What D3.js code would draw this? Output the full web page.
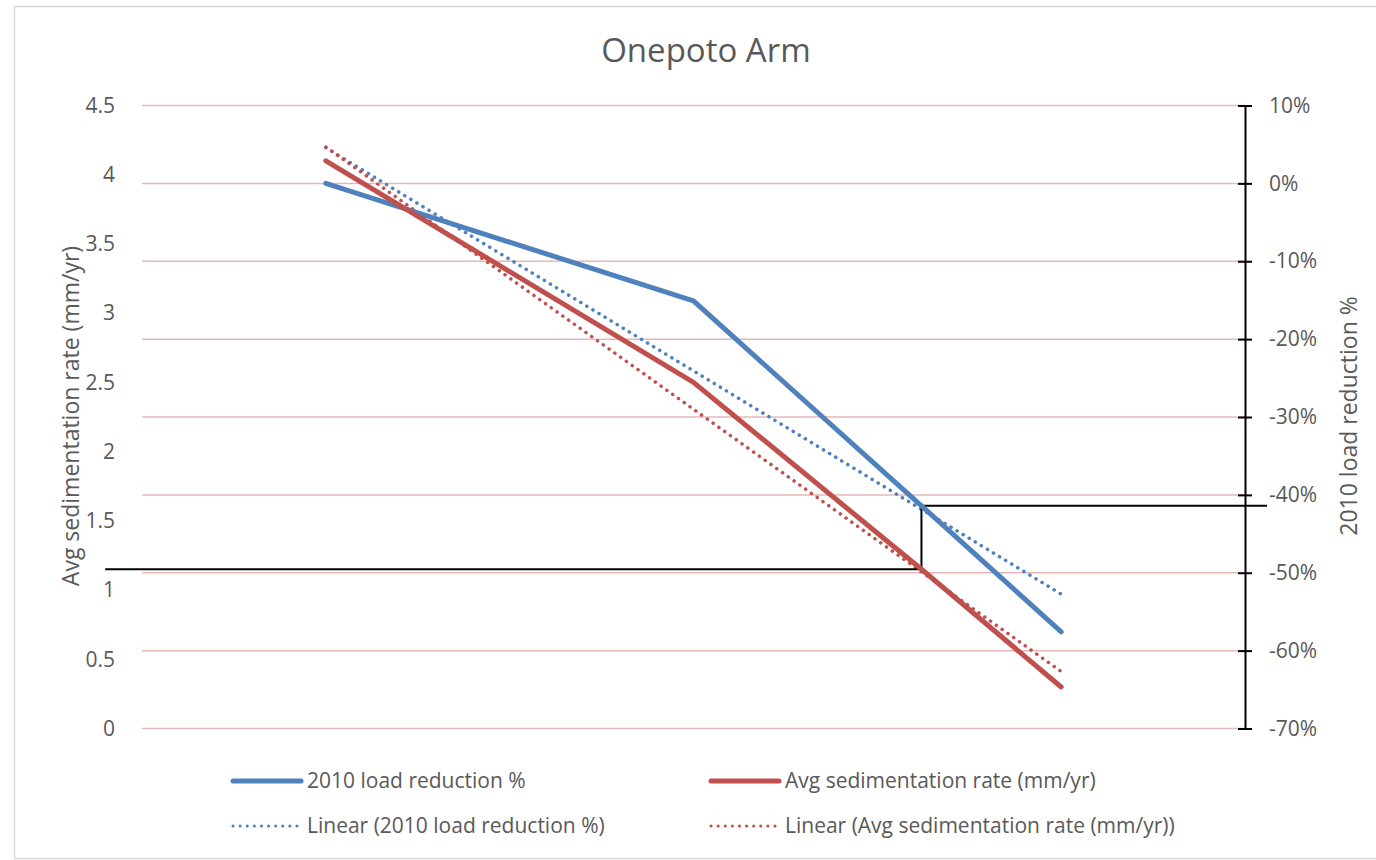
<!DOCTYPE html>
<html>
<head>
<meta charset="utf-8">
<script src="https://cdn.jsdelivr.net/npm/d3@7"></script>
<style>
  body { margin: 0; background: #fff; }
  text { font-family: 'Open Sans', sans-serif; fill: #595959; }
</style>
</head>
<body>
<div id="chart"></div>
<script>
let width = 1376
let height = 860

// data
const xValues = [1, 3, 4.24, 5]
const loadReduction = [0, -0.151, -0.414, -0.576]
const sedRate = [4.10, 2.50, 1.15, 0.30]
const leftTicks = [0, 0.5, 1, 1.5, 2, 2.5, 3, 3.5, 4, 4.5]
const rightTicks = [-0.7, -0.6, -0.5, -0.4, -0.3, -0.2, -0.1, 0, 0.1]
// black guide lines (x extent in chart units)
const guideX = [-0.2, 4.24, 6.12]

const blue = '#4f81bd'
const red = '#c0504d'

let svg = d3.select('#chart')
            .append('svg')
            .attr('width', width)
            .attr('height', height)

svg.append('rect')
    .attr('x', 14.5)
    .attr('y', 6.5)
    .attr('width', 1370)
    .attr('height', 852)
    .attr('fill', 'none')
    .attr('stroke', '#d9d9d9')
    .attr('stroke-width', 1.5)

let xScale = d3.scaleLinear().domain([0, 6]).range([142, 1245])
let yLeft = d3.scaleLinear().domain([0, 4.5]).range([728.5, 105.5])
let yRight = d3.scaleLinear().domain([-0.7, 0.1]).range([728.5, 105.5])

// title
svg.append('text')
    .attr('x', 706)
    .attr('y', 62)
    .attr('text-anchor', 'middle')
    .style('font-size', '33px')
    .text('Onepoto Arm')

// gridlines follow the right axis
svg.selectAll('.grid')
    .data(rightTicks)
    .enter()
    .append('line')
    .attr('class', 'grid')
    .attr('x1', xScale(0))
    .attr('x2', xScale(6))
    .attr('y1', d => yRight(d))
    .attr('y2', d => yRight(d))
    .attr('stroke', '#e6b9b8')
    .attr('stroke-width', 1.5)

// left axis: labels only
let leftAxis = svg.append('g')
    .attr('transform', 'translate(' + (xScale(0) - 24) + ',0)')
    .call(d3.axisLeft(yLeft).tickValues(leftTicks).tickSize(0).tickFormat(d => d))
leftAxis.select('.domain').remove()
leftAxis.selectAll('text')
    .attr('fill', '#595959')
    .style('font-family', "'Open Sans', sans-serif")
    .style('font-size', '21px')

// right axis with line and crossing ticks
let pct = d3.format('.0%')
let rightAxis = svg.append('g')
    .attr('transform', 'translate(' + xScale(6) + ',0)')
    .call(d3.axisRight(yRight).tickValues(rightTicks).tickSize(0).tickPadding(24)
        .tickFormat(d => pct(d).replace('\u2212', '-')))
rightAxis.select('.domain').attr('stroke', '#000').attr('stroke-width', 2)
rightAxis.selectAll('.tick line')
    .attr('x1', -7)
    .attr('x2', 7)
    .attr('stroke', '#000')
    .attr('stroke-width', 2)
rightAxis.selectAll('text')
    .attr('fill', '#595959')
    .style('font-family', "'Open Sans', sans-serif")
    .style('font-size', '21px')

// axis titles
svg.append('text')
    .attr('transform', 'translate(79,416) rotate(-90)')
    .attr('text-anchor', 'middle')
    .style('font-size', '23px')
    .text('Avg sedimentation rate (mm/yr)')

svg.append('text')
    .attr('transform', 'translate(1357,416) rotate(-90)')
    .attr('text-anchor', 'middle')
    .style('font-size', '23px')
    .text('2010 load reduction %')

// linear trend from the points
function linearFit(xs, ys) {
    let mx = d3.mean(xs), my = d3.mean(ys)
    let sxy = d3.sum(xs, (x, i) => (x - mx) * (ys[i] - my))
    let sxx = d3.sum(xs, x => (x - mx) * (x - mx))
    let slope = sxy / sxx
    let ext = d3.extent(xs)
    return ext.map(x => [x, my + slope * (x - mx)])
}

let blueTrend = linearFit(xValues, loadReduction)
let redTrend = linearFit(xValues, sedRate)

let dotted = '0.1 7'

svg.append('path')
    .datum(blueTrend)
    .attr('d', d3.line().x(d => xScale(d[0])).y(d => yRight(d[1])))
    .attr('fill', 'none')
    .attr('stroke', blue)
    .attr('stroke-width', 3.5)
    .attr('stroke-linecap', 'round')
    .attr('stroke-dasharray', dotted)

svg.append('path')
    .datum(redTrend)
    .attr('d', d3.line().x(d => xScale(d[0])).y(d => yLeft(d[1])))
    .attr('fill', 'none')
    .attr('stroke', red)
    .attr('stroke-width', 3.5)
    .attr('stroke-linecap', 'round')
    .attr('stroke-dasharray', dotted)

// black guide lines
let guide = [
    [xScale(guideX[0]), yLeft(sedRate[2])],
    [xScale(guideX[1]), yLeft(sedRate[2])],
    [xScale(guideX[1]), yRight(loadReduction[2])],
    [xScale(guideX[2]), yRight(loadReduction[2])]
]
svg.append('path')
    .attr('d', d3.line()(guide))
    .attr('fill', 'none')
    .attr('stroke', '#000')
    .attr('stroke-width', 2)

// main series
svg.append('path')
    .datum(xValues.map((x, i) => [x, loadReduction[i]]))
    .attr('d', d3.line().x(d => xScale(d[0])).y(d => yRight(d[1])))
    .attr('fill', 'none')
    .attr('stroke', blue)
    .attr('stroke-width', 5)
    .attr('stroke-linecap', 'round')
    .attr('stroke-linejoin', 'round')

svg.append('path')
    .datum(xValues.map((x, i) => [x, sedRate[i]]))
    .attr('d', d3.line().x(d => xScale(d[0])).y(d => yLeft(d[1])))
    .attr('fill', 'none')
    .attr('stroke', red)
    .attr('stroke-width', 5)
    .attr('stroke-linecap', 'round')
    .attr('stroke-linejoin', 'round')

// legend
let legendItems = [
    {label: '2010 load reduction %', color: blue, dash: null, x: 233, y: 781},
    {label: 'Avg sedimentation rate (mm/yr)', color: red, dash: null, x: 711, y: 781},
    {label: 'Linear (2010 load reduction %)', color: blue, dash: dotted, x: 233, y: 826},
    {label: 'Linear (Avg sedimentation rate (mm/yr))', color: red, dash: dotted, x: 711, y: 826}
]

let legend = svg.selectAll('.legend')
    .data(legendItems)
    .enter()
    .append('g')
    .attr('class', 'legend')
    .attr('transform', d => 'translate(' + d.x + ',' + d.y + ')')

legend.append('line')
    .attr('x1', 0)
    .attr('x2', 68)
    .attr('stroke', d => d.color)
    .attr('stroke-width', d => d.dash ? 3 : 5)
    .attr('stroke-linecap', 'round')
    .attr('stroke-dasharray', d => d.dash)

legend.append('text')
    .attr('x', 74)
    .attr('dy', '0.35em')
    .style('font-size', '21px')
    .text(d => d.label)
</script>
</body>
</html>
